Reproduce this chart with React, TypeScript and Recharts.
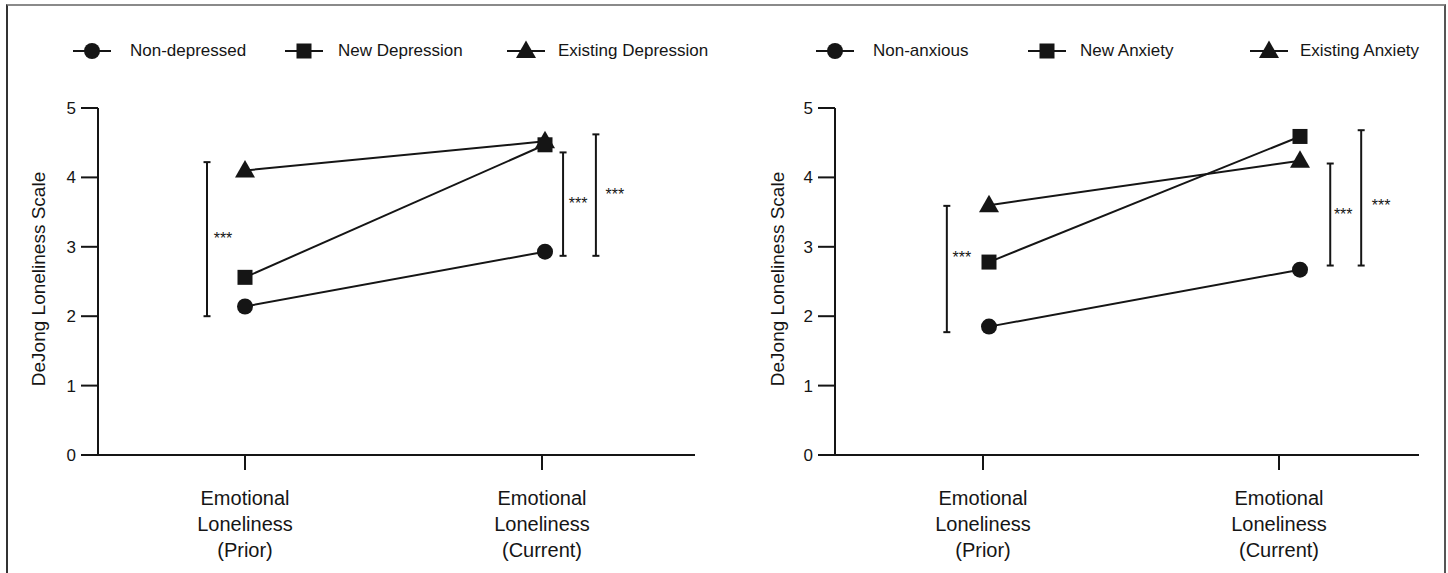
import React from "react";
import { LineChart, Line, XAxis, YAxis, Legend, ReferenceLine } from "recharts";

const FONT = '"Liberation Sans", Arial, Helvetica, sans-serif';
const INK = "#151515";

// categories and tick labels
const categories = ["Prior", "Current"];
const tickLabels = [
  ["Emotional", "Loneliness", "(Prior)"],
  ["Emotional", "Loneliness", "(Current)"],
];
const yTicks = [0, 1, 2, 3, 4, 5];

// depression panel
const depressionGroups = ["Non-depressed", "New Depression", "Existing Depression"];
const nonDepressed = [2.14, 2.93];
const newDepression = [2.56, 4.47];
const existingDepression = [4.1, 4.52];
const depressionSig = [
  { from: 2.0, to: 4.22, label: "***" },
  { from: 2.87, to: 4.36, label: "***" },
  { from: 2.87, to: 4.62, label: "***" },
];

// anxiety panel
const anxietyGroups = ["Non-anxious", "New Anxiety", "Existing Anxiety"];
const nonAnxious = [1.85, 2.67];
const newAnxiety = [2.78, 4.59];
const existingAnxiety = [3.6, 4.24];
const anxietySig = [
  { from: 1.77, to: 3.59, label: "***" },
  { from: 2.73, to: 4.2, label: "***" },
  { from: 2.73, to: 4.68, label: "***" },
];

const SHAPES = ["circle", "square", "triangle"];

function Marker({ shape, cx, cy }: { shape: string; cx: number; cy: number }) {
  if (cx == null || cy == null) return null;
  if (shape === "circle") return <circle cx={cx} cy={cy} r={8} fill={INK} />;
  if (shape === "square")
    return <rect x={cx - 7.5} y={cy - 7.5} width={15} height={15} fill={INK} />;
  return (
    <path d={`M${cx},${cy - 10.5} L${cx + 10},${cy + 7} L${cx - 10},${cy + 7} Z`} fill={INK} />
  );
}

const CatTick = (props: any) => {
  const { x, y, payload } = props;
  const lines = tickLabels[categories.indexOf(payload.value)] || [];
  return (
    <text x={x} y={y} textAnchor="middle" fill={INK} fontSize={20} fontFamily={FONT}>
      {lines.map((l, i) => (
        <tspan key={i} x={x} y={y + 35 + i * 26}>
          {l}
        </tspan>
      ))}
    </text>
  );
};

const bracketShape = (sig: { from: number; to: number; label: string }, labelAt: number, dx: number) =>
  (p: any) => {
    const { x1, y1, x2, y2 } = p;
    const ty = y1 + ((labelAt - sig.from) / (sig.to - sig.from)) * (y2 - y1);
    return (
      <g>
        <line x1={x1} y1={y1} x2={x2} y2={y2} stroke={INK} strokeWidth={2} />
        <line x1={x1 - 3.5} x2={x1 + 3.5} y1={y1} y2={y1} stroke={INK} strokeWidth={2} />
        <line x1={x2 - 3.5} x2={x2 + 3.5} y1={y2} y2={y2} stroke={INK} strokeWidth={2} />
        <text x={x1 + dx} y={ty + 7} textAnchor="middle" fontSize={16} fill={INK} fontFamily={FONT}>
          {sig.label}
        </text>
      </g>
    );
  };

type Layout = {
  yAxisWidth: number;
  catPad: { left: number; right: number };
  ptsPad: { left: number; right: number };
  bracketX: number[]; // fraction of plot width
  labelAt: number[];
  labelDx: number[];
  legendSymbolX: number[];
  legendTextX: number[];
  yLabelX: number;
};

function Panel({
  groups, series, sig, layout,
}: {
  groups: string[];
  series: number[][];
  sig: { from: number; to: number; label: string }[];
  layout: Layout;
}) {
  const keys = ["g0", "g1", "g2"];
  const data = categories.map((name, i) => ({
    name,
    g0: series[0][i],
    g1: series[1][i],
    g2: series[2][i],
  }));

  const legend = () => (
    <div style={{ position: "relative", width: 724, height: 108, fontFamily: FONT, color: INK }}>
      {groups.map((g, i) => (
        <React.Fragment key={g}>
          <svg
            width={40}
            height={24}
            style={{ position: "absolute", left: layout.legendSymbolX[i] - 20, top: 51 - 12 }}
          >
            <line x1={1} x2={39} y1={12} y2={12} stroke={INK} strokeWidth={2} />
            <Marker shape={SHAPES[i]} cx={20} cy={12} />
          </svg>
          <span
            style={{
              position: "absolute",
              left: layout.legendTextX[i],
              top: 51,
              transform: "translateY(-50%)",
              fontSize: 17,
              whiteSpace: "nowrap",
              lineHeight: "20px",
            }}
          >
            {g}
          </span>
        </React.Fragment>
      ))}
    </div>
  );

  const yLabel = () => (
    <text
      x={layout.yLabelX}
      y={279}
      transform={`rotate(-90 ${layout.yLabelX} 279)`}
      textAnchor="middle"
      dominantBaseline="central"
      fontSize={19}
      fill={INK}
      fontFamily={FONT}
    >
      DeJong Loneliness Scale
    </text>
  );

  // draw order: existing, new, none (square sits on the triangle)
  const order = [2, 1, 0];

  return (
    <LineChart width={724} height={573} data={data} margin={{ top: 0, right: 29, bottom: 18, left: 0 }}>
      <Legend
        verticalAlign="top"
        align="left"
        content={legend}
        wrapperStyle={{ top: 0, left: 0, width: 724, height: 108 }}
      />
      <XAxis
        xAxisId="cat"
        dataKey="name"
        padding={layout.catPad}
        interval={0}
        height={100}
        tickSize={15}
        tickMargin={0}
        tick={<CatTick />}
        axisLine={{ stroke: INK, strokeWidth: 2 }}
        tickLine={{ stroke: INK, strokeWidth: 2 }}
      />
      <XAxis xAxisId="pts" dataKey="name" padding={layout.ptsPad} height={0} hide />
      <XAxis xAxisId="ann" type="number" domain={[0, 1]} allowDataOverflow height={0} hide />
      <YAxis
        domain={[0, 5]}
        ticks={yTicks}
        interval={0}
        width={layout.yAxisWidth}
        tickSize={17}
        tickMargin={5}
        axisLine={{ stroke: INK, strokeWidth: 2 }}
        tickLine={{ stroke: INK, strokeWidth: 2 }}
        tick={{ fill: INK, fontSize: 17, fontFamily: FONT }}
        label={{ content: yLabel }}
      />
      {sig.map((s, i) => (
        <ReferenceLine
          key={i}
          xAxisId="ann"
          segment={[
            { x: layout.bracketX[i], y: s.from },
            { x: layout.bracketX[i], y: s.to },
          ]}
          ifOverflow="visible"
          shape={bracketShape(s, layout.labelAt[i], layout.labelDx[i])}
        />
      ))}
      {order.map((i) => (
        <Line
          key={keys[i]}
          xAxisId="pts"
          dataKey={keys[i]}
          name={groups[i]}
          stroke={INK}
          strokeWidth={2}
          isAnimationActive={false}
          activeDot={false}
          dot={(p: any) => <Marker key={`${keys[i]}-${p.index}`} shape={SHAPES[i]} cx={p.cx} cy={p.cy} />}
        />
      ))}
    </LineChart>
  );
}

const depressionLayout: Layout = {
  yAxisWidth: 98,
  catPad: { left: 147, right: 153 },
  ptsPad: { left: 147, right: 150 },
  bracketX: [0.1826, 0.779, 0.834],
  labelAt: [3.14, 3.65, 3.78],
  labelDx: [16, 15, 19],
  legendSymbolX: [92, 304, 526],
  legendTextX: [130, 338, 558],
  yLabelX: 38,
};

const anxietyLayout: Layout = {
  yAxisWidth: 111,
  catPad: { left: 148, right: 140 },
  ptsPad: { left: 154, right: 119 },
  bracketX: [0.1915, 0.848, 0.901],
  labelAt: [2.87, 3.49, 3.62],
  labelDx: [15, 13, 20],
  legendSymbolX: [111, 323, 545],
  legendTextX: [149, 356, 576],
  yLabelX: 53,
};

export default function App() {
  return (
    <div
      style={{
        position: "absolute",
        left: 0,
        top: 0,
        width: 1448,
        height: 573,
        overflow: "hidden",
        background: "#fff",
      }}
    >
      <div
        style={{
          position: "absolute",
          left: 6,
          top: 4,
          width: 1436,
          height: 600,
          borderTop: "2px solid #8a8a8a",
          borderLeft: "2px solid #333",
          borderRight: "2px solid #555",
        }}
      />
      <div style={{ position: "absolute", left: 0, top: 0, display: "flex" }}>
        <Panel
          groups={depressionGroups}
          series={[nonDepressed, newDepression, existingDepression]}
          sig={depressionSig}
          layout={depressionLayout}
        />
        <Panel
          groups={anxietyGroups}
          series={[nonAnxious, newAnxiety, existingAnxiety]}
          sig={anxietySig}
          layout={anxietyLayout}
        />
      </div>
    </div>
  );
}
